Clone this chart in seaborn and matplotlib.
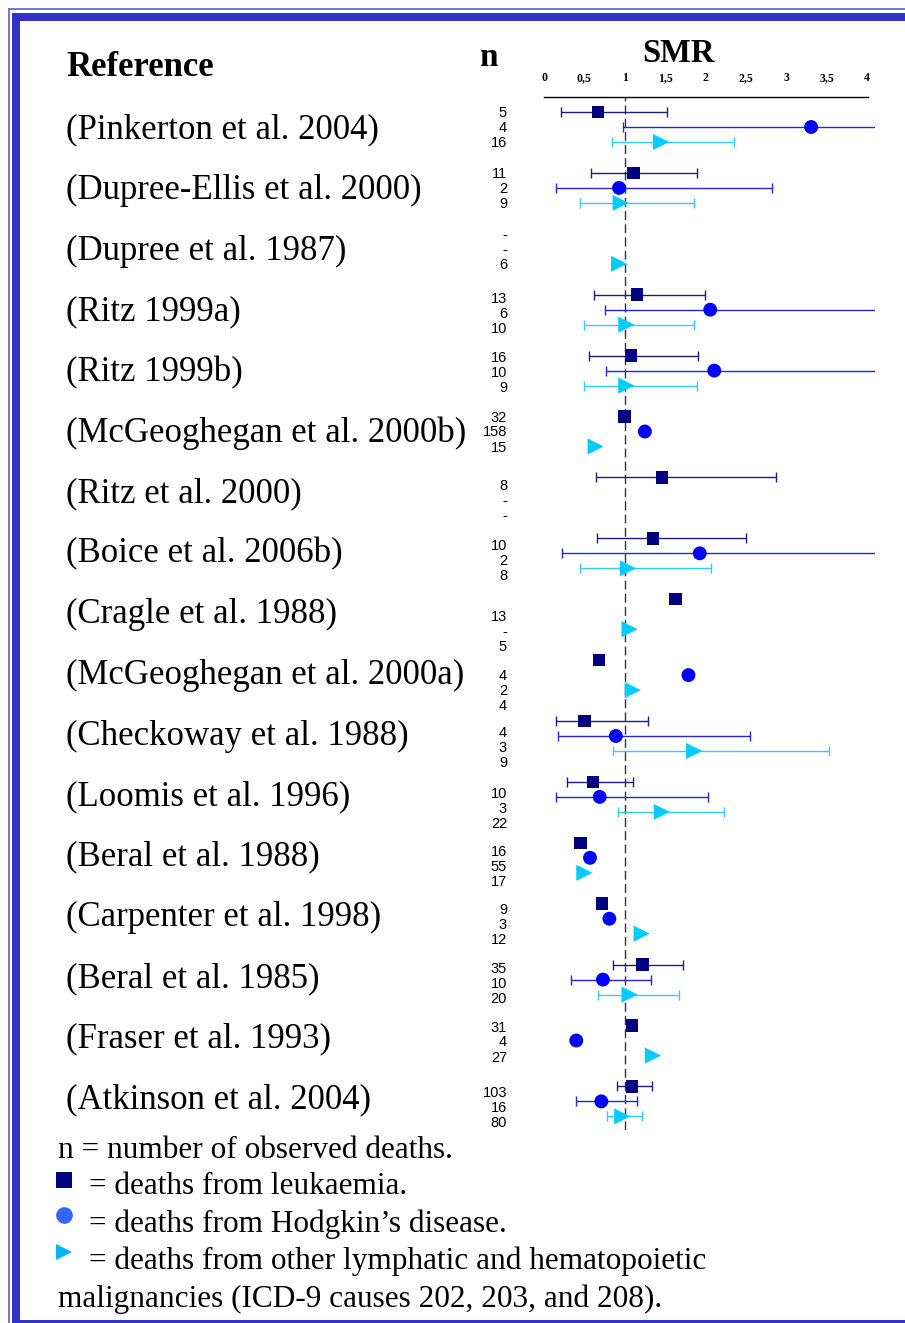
import numpy as np
import pandas as pd
import seaborn as sns
import matplotlib
matplotlib.use("Agg")
import matplotlib.pyplot as plt
from matplotlib.patches import Rectangle
from matplotlib.transforms import blended_transform_factory

# --- data ---
studies = ["(Pinkerton et al. 2004)", "(Dupree-Ellis et al. 2000)", "(Dupree et al. 1987)",
           "(Ritz 1999a)", "(Ritz 1999b)", "(McGeoghegan et al. 2000b)", "(Ritz et al. 2000)",
           "(Boice et al. 2006b)", "(Cragle et al. 1988)", "(McGeoghegan et al. 2000a)",
           "(Checkoway et al. 1988)", "(Loomis et al. 1996)", "(Beral et al. 1988)",
           "(Carpenter et al. 1998)", "(Beral et al. 1985)", "(Fraser et al. 1993)",
           "(Atkinson et al. 2004)"]

n_leuk = ["5", "11", "-", "13", "16", "32", "8", "10", "13", "4", "4", "10", "16", "9", "35", "31", "103"]
n_hodg = ["4", "2", "-", "6", "10", "158", "-", "2", "-", "2", "3", "3", "55", "3", "10", "4", "16"]
n_other = ["16", "9", "6", "10", "9", "15", "-", "8", "5", "4", "9", "22", "17", "12", "20", "27", "80"]

nan = np.nan
smr_leuk = [0.67, 1.11, nan, 1.15, 1.08, 1.00, 1.46, 1.35, 1.63, 0.68, 0.50, 0.61, 0.45, 0.72, 1.22, 1.09, 1.09]
lo_leuk = [0.21, 0.58, nan, 0.62, 0.56, nan, 0.64, 0.66, nan, nan, 0.15, 0.28, nan, nan, 0.86, nan, 0.91]
hi_leuk = [1.53, 1.89, nan, 1.99, 1.91, nan, 2.88, 2.50, nan, nan, 1.29, 1.10, nan, nan, 1.72, nan, 1.34]

smr_hodg = [3.31, 0.93, nan, 2.06, 2.11, 1.25, nan, 1.93, nan, 1.79, 0.89, 0.69, 0.57, 0.81, 0.73, 0.40, 0.71]
lo_hodg = [0.98, 0.15, nan, 0.75, 0.77, nan, nan, 0.22, nan, nan, 0.17, 0.15, nan, nan, 0.33, nan, 0.40]
hi_hodg = [8.5, 2.83, nan, 4.4, 4.3, nan, nan, 6.9, nan, nan, 2.55, 2.03, nan, nan, 1.32, nan, 1.15]

smr_other = [1.45, 0.95, 0.93, 1.02, 1.02, 0.64, nan, 1.04, 1.06, 1.10, 1.86, 1.46, 0.50, 1.21, 1.06, 1.35, 0.97]
lo_other = [0.84, 0.44, nan, 0.49, 0.50, nan, nan, 0.45, nan, nan, 0.86, 0.92, nan, nan, 0.67, nan, 0.78]
hi_other = [2.35, 1.86, nan, 1.86, 1.90, nan, nan, 2.07, nan, nan, 3.53, 2.23, nan, nan, 1.67, nan, 1.22]

tick_vals = [0, 0.5, 1, 1.5, 2, 2.5, 3, 3.5, 4]
tick_labels = ["0", "0,5", "1", "1,5", "2", "2,5", "3", "3,5", "4"]

# --- layout (pixels) ---
W, H = 905, 1323
GROUP, ROW = 60.9, 15.0
label_shift = [0, 0, 0, 3, 1, 0, 8, 7, 17, 15, 11, 11, 8, 5, 3, 1, 6]

causes = ["leuk", "hodg", "other"]
colors = {"leuk": "#000080", "hodg": "#0000ff", "other": "#00ccff"}
ci_colors = {"leuk": "#1c1c85", "hodg": "#2424e0", "other": "#30ccff"}
markers = {"leuk": "s", "hodg": "o", "other": ">"}
sizes = {"leuk": 80, "hodg": 100, "other": 135}

rows = []
for k, (c, smr, lo, hi) in enumerate(zip(causes, [smr_leuk, smr_hodg, smr_other],
                                         [lo_leuk, lo_hodg, lo_other], [hi_leuk, hi_hodg, hi_other])):
    for i in range(len(studies)):
        rows.append({"study": studies[i], "cause": c, "smr": smr[i], "lo": lo[i], "hi": hi[i],
                     "y": i * GROUP + k * ROW})
df = pd.DataFrame(rows)

sns.set_theme(style="white")
plt.rcParams["font.family"] = ["Liberation Serif", "DejaVu Serif"]
plt.rcParams["text.color"] = "black"
plt.rcParams["xtick.color"] = "black"
plt.rcParams["axes.labelcolor"] = "black"

fig = plt.figure(figsize=(W / 100, H / 100), dpi=100)

# background axes in pixel units for frame, titles and key
bg = fig.add_axes([0, 0, 1, 1])
bg.set_xlim(0, W)
bg.set_ylim(H, 0)
bg.axis("off")

bg.add_patch(Rectangle((7.5, 7.5), W, 2, color="#7474dc", lw=0))
bg.add_patch(Rectangle((7.5, 7.5), 2, H, color="#7474dc", lw=0))
bg.add_patch(Rectangle((12, 13), W, 7.5, color="#3333cc", lw=0))
bg.add_patch(Rectangle((12, 13), 7.5, H, color="#3333cc", lw=0))
bg.add_patch(Rectangle((12, 1319.5), W, 4, color="#3333cc", lw=0))

bg.text(66, 68, "Reference", fontsize=25, fontweight="bold", va="center", ha="left")
bg.text(488, 58, "n", fontsize=24, fontweight="bold", va="center", ha="center")
bg.text(678, 53, "SMR", fontsize=23.5, fontweight="bold", va="center", ha="center")

# main forest axes
x0, x1 = 544, 875
y_top, y_bot = 97, 1130
ax = fig.add_axes([x0 / W, 1 - y_bot / H, (x1 - x0) / W, (y_bot - y_top) / H])
ax.set_facecolor("none")
ax.set_xlim(0, (x1 - x0) / 80.7)
ax.set_ylim(y_bot - 112, y_top - 112)

ax.axvline(1, color="#333333", lw=1.0, ls=(0, (6.5, 3)), zorder=1)

for c in causes:
    sub = df[(df.cause == c) & df.lo.notna()]
    ax.errorbar(sub.smr, sub.y, xerr=[sub.smr - sub.lo, sub.hi - sub.smr], fmt="none",
                ecolor=ci_colors[c], elinewidth=1.0, capsize=3.6, capthick=1.0, zorder=2)

pts = df[df.smr.notna()]
sns.scatterplot(data=pts, x="smr", y="y", hue="cause", style="cause", size="cause",
                palette=colors, markers=markers, sizes=sizes, linewidth=0,
                legend=False, ax=ax, zorder=3)

ax.set_xlabel("")
ax.set_ylabel("")
ax.set_yticks([])
ax.xaxis.tick_top()
ax.set_xticks(tick_vals)
ax.set_xticklabels(tick_labels, fontsize=8.5, fontweight="bold")
ax.tick_params(axis="x", length=0, pad=9.5, colors="black")
for s in ["left", "right", "bottom"]:
    ax.spines[s].set_visible(False)
ax.spines["top"].set_bounds(0, 4.02)
ax.spines["top"].set_color("black")
ax.spines["top"].set_linewidth(1.0)

# study names and n labels follow the data rows
tr = blended_transform_factory(bg.transData, ax.transData)
for i, name in enumerate(studies):
    bg_y = 130 + 60.6 * i - 112
    ax.text(66, bg_y, name, transform=tr, fontsize=25, va="center", ha="left")
    for k, lab in enumerate([n_leuk[i], n_hodg[i], n_other[i]]):
        ax.text(507, i * GROUP + k * ROW + label_shift[i] + 1, lab, transform=tr,
                fontsize=10.5, family=["Liberation Sans", "DejaVu Sans"],
                va="center", ha="right")

# key
bg.text(58, 1150, "n = number of observed deaths.", fontsize=22.5, va="center", ha="left")
bg.plot([63.5], [1180], marker="s", ms=12, color=colors["leuk"], mew=0)
bg.text(89, 1187, "= deaths from leukaemia.", fontsize=22.5, va="center", ha="left")
bg.plot([63.5], [1215], marker="o", ms=12, color="#3366ff", mew=0)
bg.text(89, 1224, "= deaths from Hodgkin\u2019s disease.", fontsize=22.5, va="center", ha="left")
bg.plot([63.5], [1252], marker=">", ms=12, color="#00b4f5", mew=0)
bg.text(89, 1261, "= deaths from other lymphatic and hematopoietic", fontsize=22.5,
        va="center", ha="left")
bg.text(58, 1299, "malignancies (ICD-9 causes 202, 203, and 208).", fontsize=22.5,
        va="center", ha="left")

fig.savefig("out.png", dpi=100)
